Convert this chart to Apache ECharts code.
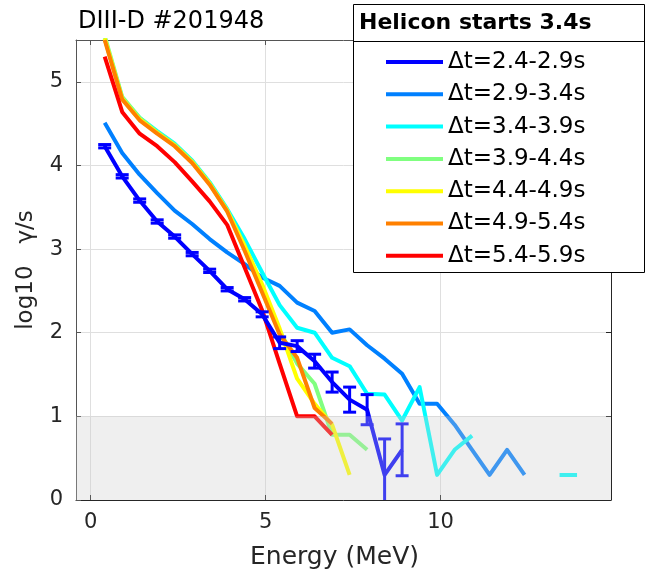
<!DOCTYPE html>
<html>
<head>
<meta charset="utf-8">
<script src="https://cdn.jsdelivr.net/npm/echarts@6/dist/echarts.min.js"></script>
<style>
  html, body { margin: 0; padding: 0; background: #fff; }
  #chart { width: 653px; height: 580px; }
</style>
</head>
<body>
<div id="chart"></div>
<script>
// energy bins (MeV)
const energy = [0.4, 0.9, 1.4, 1.9, 2.4, 2.9, 3.4, 3.9, 4.4, 4.9, 5.4, 5.9, 6.4, 6.9,
  7.4, 7.9, 8.4, 8.9, 9.4, 9.9, 10.4, 10.9, 11.4, 11.9, 12.4, 12.9, 13.4, 13.9];

const names = ['\u0394t=2.4-2.9s', '\u0394t=2.9-3.4s', '\u0394t=3.4-3.9s', '\u0394t=3.9-4.4s',
  '\u0394t=4.4-4.9s', '\u0394t=4.9-5.4s', '\u0394t=5.4-5.9s'];
const colors = ['#0000ff', '#0080ff', '#00ffff', '#80ff80', '#ffff00', '#ff8000', '#ff0000'];

// log10 counts per window
const win1 = [4.23, 3.87, 3.58, 3.33, 3.15, 2.94, 2.74, 2.52, 2.40, 2.22, 1.88, 1.84, 1.66, 1.41,
  1.20, 1.08, 0.30, 0.60];
const win1Err = [0.02, 0.02, 0.02, 0.02, 0.02, 0.02, 0.02, 0.02, 0.02, 0.03, 0.07, 0.065, 0.083, 0.12,
  0.15, 0.18, 0.43, 0.31];
const win2 = [4.51, 4.15, 3.89, 3.67, 3.46, 3.30, 3.12, 2.96, 2.82, 2.66, 2.56, 2.36, 2.26, 2.00,
  2.04, 1.85, 1.69, 1.51, 1.15, 1.15, 0.90, 0.60, 0.30, 0.60, 0.30];
const win3 = [5.52, 4.81, 4.57, 4.41, 4.26, 4.06, 3.80, 3.48, 3.12, 2.72, 2.33, 2.06, 2.00, 1.70,
  1.60, 1.27, 1.26, 0.95, 1.35, 0.30, 0.60, 0.77, null, null, null, null, 0.30, 0.30];
const win4 = [5.55, 4.82, 4.57, 4.40, 4.25, 4.05, 3.79, 3.47, 3.02, 2.52, 2.02, 1.63, 1.39, 0.78,
  0.78, 0.60];
const win5 = [5.52, 4.80, 4.55, 4.39, 4.24, 4.04, 3.78, 3.46, 3.04, 2.58, 2.05, 1.45, 1.15, 0.90,
  0.30];
const win6 = [5.50, 4.79, 4.54, 4.38, 4.23, 4.03, 3.77, 3.45, 2.98, 2.48, 1.98, 1.70, 1.10, 0.91];
const win7 = [5.30, 4.64, 4.38, 4.23, 4.04, 3.81, 3.57, 3.29, 2.78, 2.27, 1.63, 1.00, 1.00, 0.78];

const xTicks = [0, 5, 10];
const yTicks = [0, 1, 2, 3, 4, 5];
const xMin = -0.42, xMax = 14.87, yMin = 0, yMax = 5.5;
const shadeTop = 1;

const FONT = 'DejaVu Sans';
const axisColor = '#262626';

function pairs(vals) {
  return vals.map((v, i) => [energy[i], v]);
}

const windows = [win1, win2, win3, win4, win5, win6, win7];

const lineSeries = windows.map((vals, i) => ({
  name: names[i],
  type: 'line',
  data: pairs(vals),
  symbol: 'none',
  connectNulls: false,
  color: colors[i],
  lineStyle: { width: 4, color: colors[i], join: 'round' },
  z: i === 0 ? 4 : 2,
  silent: true,
  animation: false
}));

const errSeries = {
  type: 'custom',
  clip: true,
  z: 4,
  silent: true,
  animation: false,
  data: win1.map((v, i) => [energy[i], v, win1Err[i]]),
  renderItem: function (params, api) {
    const x = api.value(0), y = api.value(1), e = api.value(2);
    const hi = api.coord([x, y + e]);
    const lo = api.coord([x, y - e]);
    const half = 6.5;
    const style = { stroke: colors[0], lineWidth: 3 };
    return {
      type: 'group',
      children: [
        { type: 'line', shape: { x1: hi[0], y1: hi[1], x2: lo[0], y2: lo[1] }, style: style },
        { type: 'line', shape: { x1: hi[0] - half, y1: hi[1], x2: hi[0] + half, y2: hi[1] }, style: style },
        { type: 'line', shape: { x1: lo[0] - half, y1: lo[1], x2: lo[0] + half, y2: lo[1] }, style: style }
      ]
    };
  }
};

// translucent patch over the low-count region
const shadeSeries = {
  type: 'custom',
  z: 6,
  silent: true,
  animation: false,
  data: [[xMin, xMax, yMin, shadeTop]],
  renderItem: function (params, api) {
    const p1 = api.coord([api.value(0), api.value(3)]);
    const p2 = api.coord([api.value(1), api.value(2)]);
    return {
      type: 'rect',
      shape: { x: p1[0], y: p1[1], width: p2[0] - p1[0], height: p2[1] - p1[1] },
      style: { fill: 'rgba(204,204,204,0.31)' }
    };
  }
};

const chart = echarts.init(document.getElementById('chart'));

chart.setOption({
  animation: false,
  grid: { left: 76, right: 42, top: 40, bottom: 80 },
  xAxis: [{
    type: 'value', min: xMin, max: xMax, position: 'bottom',
    name: 'Energy (MeV)', nameLocation: 'middle', nameGap: 45,
    nameTextStyle: { fontFamily: FONT, fontSize: 25, color: axisColor, padding: [0, 18, 0, 0] },
    axisLine: { show: true, onZero: false, lineStyle: { color: axisColor, width: 1 } },
    axisTick: { show: true, inside: true, length: 5, customValues: xTicks, lineStyle: { color: axisColor } },
    axisLabel: { customValues: xTicks, fontFamily: FONT, fontSize: 21, color: axisColor, margin: 12 },
    splitLine: { show: true, lineStyle: { color: '#dfdfdf', width: 1 } }
  }, {
    type: 'value', min: xMin, max: xMax, position: 'top',
    axisLine: { show: true, onZero: false, lineStyle: { color: '#555', width: 1 } },
    axisTick: { show: true, inside: true, length: 5, customValues: xTicks, lineStyle: { color: '#555' } },
    axisLabel: { show: false },
    splitLine: { show: false }
  }],
  yAxis: [{
    type: 'value', min: yMin, max: yMax, position: 'left',
    name: 'log10   \u03b3/s', nameLocation: 'middle', nameGap: 38,
    nameTextStyle: { fontFamily: FONT, fontSize: 23, color: axisColor },
    axisLine: { show: true, onZero: false, lineStyle: { color: '#555', width: 1 } },
    axisTick: { show: true, inside: true, length: 5, customValues: yTicks, lineStyle: { color: '#555' } },
    axisLabel: { customValues: yTicks, fontFamily: FONT, fontSize: 21, color: axisColor, margin: 13 },
    splitLine: { show: true, lineStyle: { color: '#dfdfdf', width: 1 } }
  }, {
    type: 'value', min: yMin, max: yMax, position: 'right',
    axisLine: { show: true, onZero: false, lineStyle: { color: axisColor, width: 1 } },
    axisTick: { show: true, inside: true, length: 5, customValues: yTicks, lineStyle: { color: axisColor } },
    axisLabel: { show: false },
    splitLine: { show: false }
  }],
  legend: {
    data: names,
    orient: 'vertical',
    left: 386,
    top: 50,
    padding: 0,
    itemWidth: 57,
    itemHeight: 4,
    itemGap: 8.3,
    icon: 'rect',
    selectedMode: false,
    z: 12,
    textStyle: { fontFamily: FONT, fontSize: 23, lineHeight: 24, color: '#000' }
  },
  graphic: [
    {
      type: 'rect', z: 10, silent: true,
      shape: { x: 353.5, y: 4.5, width: 291, height: 268 },
      style: { fill: '#fff', stroke: '#000', lineWidth: 1 }
    },
    {
      type: 'line', z: 11, silent: true,
      shape: { x1: 353.5, y1: 41.5, x2: 644.5, y2: 41.5 },
      style: { stroke: '#000', lineWidth: 1 }
    },
    {
      type: 'text', z: 11, silent: true, x: 359, y: 23,
      style: { text: 'Helicon starts 3.4s', fontFamily: FONT, fontSize: 22, fontWeight: 'bold',
        fill: '#000', textVerticalAlign: 'middle' }
    },
    {
      type: 'text', z: 11, silent: true, x: 78, y: 22,
      style: { text: 'DIII-D #201948', fontFamily: FONT, fontSize: 24, fill: '#000',
        textVerticalAlign: 'middle' }
    }
  ],
  series: lineSeries.slice(1).concat([lineSeries[0], errSeries, shadeSeries])
});
</script>
</body>
</html>
